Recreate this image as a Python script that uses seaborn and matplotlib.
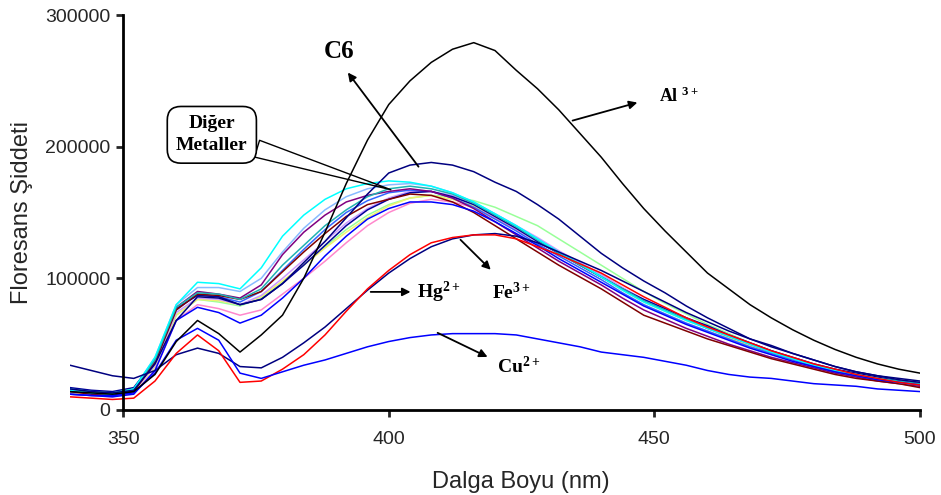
import pandas as pd
import seaborn as sns
import matplotlib.pyplot as plt

# wavelength grid (nm) and intensities (x1000) every 4 nm
wavelength = list(range(340, 501, 4))

al3 = [14, 13, 12, 14, 27, 52, 68, 58, 44, 57, 72, 100, 135, 172, 205, 232, 250, 264, 274, 279,
       273, 258, 244, 228, 210, 192, 172, 153, 136, 120, 104, 92, 80, 70, 61, 53, 46, 40, 35, 31, 28]
fe3 = [10, 9, 8, 9, 22, 43, 57, 45, 21, 22, 31, 42, 57, 75, 92, 106, 118, 127, 131, 133,
       133, 130, 124, 118, 111, 104, 95, 86, 78, 70, 63, 57, 51, 45, 40, 35, 31, 27, 24, 21, 19]
hg2 = [34, 30, 26, 24, 30, 42, 47, 43, 33, 32, 40, 51, 63, 77, 91, 104, 115, 124, 130, 133,
       134, 132, 127, 120, 113, 106, 98, 90, 82, 74, 67, 60, 54, 49, 43, 38, 33, 29, 26, 23, 21]
cu2 = [12, 11, 11, 13, 28, 53, 62, 53, 28, 24, 29, 34, 38, 43, 48, 52, 55, 57, 58, 58,
       58, 57, 54, 51, 48, 44, 42, 40, 37, 34, 30, 27, 25, 24, 22, 20, 19, 18, 16, 15, 14]
navy_hi = [16, 14, 13, 15, 35, 68, 86, 85, 80, 84, 96, 112, 128, 146, 164, 180, 186, 188, 186, 181,
           173, 166, 156, 145, 132, 119, 108, 98, 89, 79, 70, 62, 54, 48, 43, 38, 33, 29, 26, 24, 22]
cyan = [15, 13, 12, 16, 40, 80, 97, 96, 92, 108, 132, 148, 160, 168, 172, 174, 173, 170, 165, 158,
        149, 140, 130, 120, 111, 101, 91, 82, 75, 68, 62, 56, 50, 44, 39, 34, 30, 27, 24, 21, 19]
teal = [16, 14, 13, 16, 38, 78, 89, 88, 84, 92, 110, 125, 140, 152, 162, 168, 170, 168, 164, 157,
        148, 139, 129, 119, 110, 101, 92, 83, 76, 69, 62, 56, 50, 44, 39, 34, 30, 27, 24, 22, 20]
maroon = [14, 12, 11, 14, 36, 76, 88, 87, 84, 90, 105, 120, 134, 147, 156, 160, 164, 163, 158, 150,
          140, 130, 120, 110, 101, 92, 82, 72, 66, 60, 54, 49, 44, 39, 35, 31, 27, 24, 22, 20, 17]
purple = [15, 13, 12, 15, 37, 78, 90, 88, 85, 95, 118, 135, 148, 158, 163, 166, 168, 166, 161, 153,
          143, 133, 123, 113, 104, 95, 85, 76, 69, 62, 56, 50, 45, 40, 36, 32, 28, 25, 22, 20, 18]
yellow = [13, 12, 11, 14, 33, 72, 84, 83, 80, 86, 98, 110, 123, 135, 146, 155, 161, 163, 160, 155,
          147, 138, 128, 119, 110, 101, 91, 82, 75, 68, 62, 55, 49, 43, 38, 33, 29, 26, 23, 21, 19]
rose = [12, 11, 10, 13, 30, 68, 80, 77, 72, 76, 88, 100, 113, 127, 140, 150, 157, 160, 158, 154,
        146, 137, 128, 119, 110, 101, 92, 83, 76, 69, 62, 56, 50, 44, 39, 34, 30, 27, 24, 21, 19]
lavender = [14, 12, 11, 14, 34, 74, 85, 84, 80, 87, 100, 114, 128, 142, 153, 161, 166, 166, 163, 157,
            149, 140, 131, 121, 112, 103, 93, 84, 77, 70, 63, 57, 51, 45, 40, 35, 31, 27, 24, 22, 20]
lightgreen = [13, 12, 11, 14, 33, 72, 84, 82, 79, 85, 97, 110, 124, 137, 148, 156, 161, 163, 162, 159,
              154, 147, 140, 130, 120, 110, 100, 90, 81, 73, 65, 58, 51, 45, 39, 34, 30, 27, 24, 21, 19]
blue = [12, 11, 10, 12, 30, 68, 78, 74, 66, 72, 85, 100, 117, 132, 145, 153, 158, 158, 156, 151,
        143, 134, 125, 115, 106, 97, 88, 79, 72, 65, 59, 53, 47, 42, 37, 33, 29, 26, 23, 21, 19]
paleblue = [16, 14, 13, 16, 40, 80, 93, 93, 90, 100, 120, 138, 152, 162, 168, 171, 172, 170, 165, 158,
            149, 140, 130, 120, 111, 102, 92, 83, 76, 69, 62, 56, 50, 44, 39, 34, 30, 27, 24, 21, 19]
royal = [14, 13, 12, 15, 36, 76, 88, 86, 82, 90, 106, 122, 137, 150, 159, 165, 167, 166, 161, 154,
         145, 136, 126, 117, 108, 99, 89, 80, 73, 66, 60, 54, 48, 43, 38, 33, 29, 26, 23, 21, 19]
navy2 = [17, 15, 14, 17, 38, 77, 87, 86, 80, 84, 96, 110, 125, 140, 152, 160, 165, 166, 162, 156,
         147, 138, 128, 119, 110, 101, 92, 84, 77, 70, 64, 57, 51, 45, 40, 35, 31, 28, 25, 22, 20]

series = {
    "lightgreen": (lightgreen, "#99FF99"), "yellow": (yellow, "#F2F270"),
    "rose": (rose, "#FF88CC"), "lavender": (lavender, "#CC99FF"),
    "paleblue": (paleblue, "#88BBFF"), "royal": (royal, "#3366FF"),
    "navy2": (navy2, "#000099"), "purple": (purple, "#800080"),
    "maroon": (maroon, "#800000"), "teal": (teal, "#20B2B2"),
    "cyan": (cyan, "#00FFFF"), "blue": (blue, "#0000FF"),
    "navy_hi": (navy_hi, "#000080"), "Hg": (hg2, "#000080"),
    "Fe": (fe3, "#FF0000"), "Cu": (cu2, "#0000FF"), "Al": (al3, "#000000"),
}

rows = []
for name, (vals, _) in series.items():
    for w, v in zip(wavelength, vals):
        rows.append({"wl": w, "intensity": v * 1000, "series": name})
df = pd.DataFrame(rows)
palette = {k: c for k, (_, c) in series.items()}

sns.set_style("white")
plt.rcParams["font.family"] = ["Liberation Sans", "DejaVu Sans"]
plt.rcParams["mathtext.fontset"] = "custom"
plt.rcParams["mathtext.rm"] = "Liberation Serif:bold"
plt.rcParams["mathtext.it"] = "Liberation Serif:bold"
plt.rcParams["mathtext.bf"] = "Liberation Serif:bold"
plt.rcParams["mathtext.default"] = "rm"

fig = plt.figure(figsize=(9.41, 4.95), dpi=100)
ax = fig.add_axes([70 / 941, 85 / 495, 850 / 941, 395 / 495])

sns.lineplot(data=df, x="wl", y="intensity", hue="series", palette=palette,
             hue_order=list(series.keys()), estimator=None, sort=False,
             legend=False, linewidth=1.1, ax=ax)

ax.set_xlim(340, 500)
ax.set_ylim(0, 300000)
ax.spines["top"].set_visible(False)
ax.spines["right"].set_visible(False)
ax.spines["left"].set_position(("data", 350))
ax.spines["bottom"].set_bounds(350, 500)
for s in ("left", "bottom"):
    ax.spines[s].set_linewidth(2.0)
    ax.spines[s].set_color("black")
ax.set_xticks([350, 400, 450, 500])
ax.set_yticks([0, 100000, 200000, 300000])
ax.set_yticklabels(["0", "100000", "200000", "300000"])
ax.tick_params(axis="x", bottom=True, direction="out", length=5, width=2, pad=10, labelsize=14)
ax.tick_params(axis="y", left=True, direction="out", length=5, width=2, pad=4, labelsize=14)
ax.set_xlabel("Dalga Boyu (nm)", fontsize=17)
ax.set_ylabel("Floresans Şiddeti", fontsize=17)
ax.xaxis.set_label_coords(0.53, -0.155)
ax.yaxis.set_label_coords(-0.043, 0.5)

ann = dict(family="Liberation Serif", fontweight="bold", color="black")
arrow = dict(arrowstyle="-|>", color="black", lw=1.3, mutation_scale=12, shrinkA=0, shrinkB=0)

ax.annotate("", xy=(392.3, 256300), xytext=(405.6, 184800), arrowprops=arrow)
ax.text(390.6, 272000, "C6", fontsize=18, ha="center", va="center", **ann)

ax.annotate("", xy=(446.8, 233500), xytext=(434.6, 219800), arrowprops=arrow)
ax.text(450.8, 238000, "Al $^{3+}$", fontsize=13, ha="left", va="center", **ann)

ax.annotate("", xy=(404.1, 89700), xytext=(396.6, 89700), arrowprops=arrow)
ax.text(405.3, 89000, "Hg$^{2+}$", fontsize=14, ha="left", va="center", **ann)

ax.annotate("", xy=(419.2, 106500), xytext=(413.5, 129300), arrowprops=arrow)
ax.text(419.4, 89000, "Fe$^{3+}$", fontsize=14, ha="left", va="center", **ann)

ax.annotate("", xy=(418.6, 40300), xytext=(409.2, 58600), arrowprops=arrow)
ax.text(420.3, 32700, "Cu$^{2+}$", fontsize=14, ha="left", va="center", **ann)

ax.annotate("Diğer\nMetaller", xy=(400.4, 167300), xytext=(366.7, 209000),
            ha="center", va="center", fontsize=14, linespacing=1.4, **ann,
            bbox=dict(boxstyle="round,pad=0.45,rounding_size=0.7", fc="white", ec="black", lw=1.2),
            arrowprops=dict(arrowstyle="wedge,tail_width=0.9,shrink_factor=0.5", fc="none",
                            ec="black", lw=1.0, shrinkA=0, shrinkB=0))

fig.savefig("out.png", dpi=100)
